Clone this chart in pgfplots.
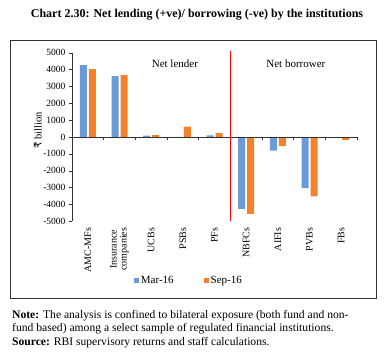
\documentclass[border=0pt]{standalone}
\usepackage{pgfplots}
\pgfplotsset{compat=1.18}
\usepackage{fontspec}
\setmainfont{Liberation Serif}
\newfontfamily\dejavu{DejaVu Sans}
\definecolor{barblue}{RGB}{106,154,216}
\definecolor{barorange}{RGB}{245,130,42}
\begin{document}
\begin{tikzpicture}
\path[use as bounding box] (0,0) rectangle (388pt,-356pt);
\node[font=\fontsize{12}{14}\selectfont\bfseries] at (197pt,-15pt) {Chart 2.30: Net lending (+ve)/ borrowing (-ve) by the institutions};
\draw[black!80, line width=0.8pt] (10pt,-40pt) rectangle (376pt,-298pt);
\begin{axis}[
  at={(72pt,-221.3pt)}, anchor=south west,
  scale only axis, width=285pt, height=168.6pt,
  xmin=-0.5, xmax=8.5, ymin=-5000, ymax=5000,
  axis lines*=left,
  x axis line style={draw=none},
  y axis line style={black!80},
  ytick={-5000,-4000,...,5000},
  xtick={0,...,8},
  xticklabels={AMC-MFs,{Insurance\\companies},UCBs,PSBs,PFs,NBFCs,AIFIs,PVBs,FBs},
  xticklabel style={rotate=90, anchor=east, align=center, font=\fontsize{10}{10}\selectfont},
  major x tick style={draw=none},
  tick align=outside,
  major tick length=3pt,
  y tick style={black!80},
  yticklabel style={font=\fontsize{9.5}{10}\selectfont},
  /pgf/number format/assume math mode=true,
  /pgf/number format/1000 sep={},
  ylabel={{\dejavu ₹} billion},
  ylabel style={at={(axis description cs:-0.12,0.54)}, anchor=center, font=\fontsize{10.5}{11}\selectfont},
  ybar=2pt, bar width=7pt,
  clip=false,
  legend columns=2,
  legend style={draw=none, at={(0.41,-0.35)}, anchor=center, font=\fontsize{11}{12}\selectfont, /tikz/every even column/.append style={column sep=28pt}},
  legend image code/.code={\fill[#1] (0pt,-2.5pt) rectangle (5pt,2.5pt);},
]
\addplot[fill=barblue, draw=none] coordinates {(0,4260) (1,3605) (2,80) (3,10) (4,100) (5,-4260) (6,-815) (7,-3030) (8,0)};
\addplot[fill=barorange, draw=none] coordinates {(0,4025) (1,3665) (2,110) (3,620) (4,230) (5,-4560) (6,-540) (7,-3520) (8,-175)};
\legend{Mar-16, Sep-16}
\draw[black!80] (axis cs:-0.5,0) -- (axis cs:8.5,0);
\pgfplotsinvokeforeach{0.5,1.5,2.5,3.5,5.5,6.5,7.5,8.5}{\draw[black!80] (axis cs:#1,0) -- (axis cs:#1,-180);}
\draw[red, line width=0.6pt] (axis cs:4.5,5080) -- (axis cs:4.5,-5000);
\node[font=\fontsize{11}{12}\selectfont] at (axis cs:2.75,4330) {Net lender};
\node[font=\fontsize{11}{12}\selectfont] at (axis cs:6.57,4330) {Net borrower};
\end{axis}
\node[anchor=base west, font=\fontsize{11.6}{13}\selectfont, inner sep=0pt] at (12pt,-318pt) {\textbf{Note:} The analysis is confined to bilateral exposure (both fund and non-};
\node[anchor=base west, font=\fontsize{11.6}{13}\selectfont, inner sep=0pt] at (12pt,-331.5pt) {fund based) among a select sample of regulated financial institutions.};
\node[anchor=base west, font=\fontsize{11.6}{13}\selectfont, inner sep=0pt] at (12pt,-345pt) {\textbf{Source:} RBI supervisory returns and staff calculations.};
\end{tikzpicture}
\end{document}
